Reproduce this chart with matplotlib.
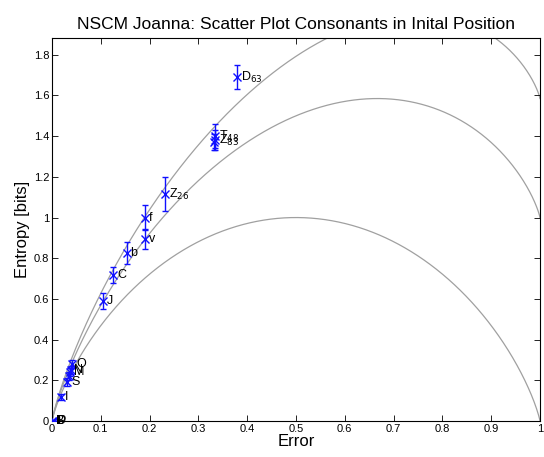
import matplotlib
matplotlib.use('Agg')
import matplotlib.pyplot as plt
import numpy as np

plt.rcParams['font.family'] = ['Liberation Sans', 'DejaVu Sans']

# data
labels = ['D', 'T', 'Z', 'X', 'Z', 'f', 'v', 'b', 'C', 'J',
          'O', 'N', 'M', 'L', 'S', 'I', 'B', 'D', 'P']
counts = ['63', '48', '83', '', '26', '', '', '', '', '',
          '', '', '', '', '', '', '', '', '']
error = [0.38, 0.335, 0.334, 0.333, 0.232, 0.19, 0.19, 0.153, 0.125, 0.105,
         0.041, 0.038, 0.037, 0.034, 0.031, 0.018, 0.0, 0.002, 0.004]
entropy = [1.69, 1.40, 1.38, 1.37, 1.115, 1.0, 0.895, 0.826, 0.718, 0.59,
           0.28, 0.25, 0.24, 0.22, 0.19, 0.12, 0.0, 0.0, 0.0]
err_bar = [0.06, 0.06, 0.05, 0.04, 0.085, 0.06, 0.048, 0.052, 0.04, 0.04,
           0.02, 0.02, 0.02, 0.02, 0.02, 0.015, 0.0, 0.0, 0.0]
show_label = [True, True, True, False, True, True, True, True, True, True,
              True, True, True, False, True, True, True, True, True]

# Fano bound curves for alphabet sizes 2, 3, 4
alphabet_sizes = [2, 3, 4]

fig = plt.figure(figsize=(5.44, 4.57), dpi=100)
ax = fig.add_axes([0.0956, 0.0788, 0.8970, 0.8387])

e = np.linspace(1e-6, 1 - 1e-6, 1000)
h = -e * np.log2(e) - (1 - e) * np.log2(1 - e)
for m in alphabet_sizes:
    ax.plot(e, h + e * np.log2(m - 1), color='#a0a0a0', lw=0.9, zorder=1)

ax.errorbar(error, entropy, yerr=err_bar, fmt='x', color='#1010ff', ms=5.5,
            mew=1.0, elinewidth=1.0, capsize=2, zorder=3)

for x, y, lab, c, s in zip(error, entropy, labels, counts, show_label):
    if not s:
        continue
    t = lab if c == '' else r'%s$_{%s}$' % (lab, c)
    ax.text(x + 0.008, y, t, fontsize=9, va='center', ha='left', zorder=4)

ax.set_xlim(0, 1)
ax.set_ylim(0, 1.884)
ax.set_xticks(np.arange(0, 1.01, 0.1))
ax.set_xticklabels(['0', '0.1', '0.2', '0.3', '0.4', '0.5', '0.6', '0.7',
                    '0.8', '0.9', '1'])
ax.set_yticks(np.arange(0, 1.81, 0.2))
ax.set_yticklabels(['0', '0.2', '0.4', '0.6', '0.8', '1', '1.2', '1.4',
                    '1.6', '1.8'])
ax.tick_params(direction='in', top=True, right=True, labelsize=8,
               length=4, width=0.6, pad=2)
for sp in ax.spines.values():
    sp.set_linewidth(0.8)

ax.set_xlabel('Error', fontsize=12, labelpad=0)
ax.set_ylabel('Entropy [bits]', fontsize=12, labelpad=3)
ax.set_title('NSCM Joanna: Scatter Plot Consonants in Inital Position',
             fontsize=12.5, pad=6)

fig.savefig('out.png', dpi=100)
